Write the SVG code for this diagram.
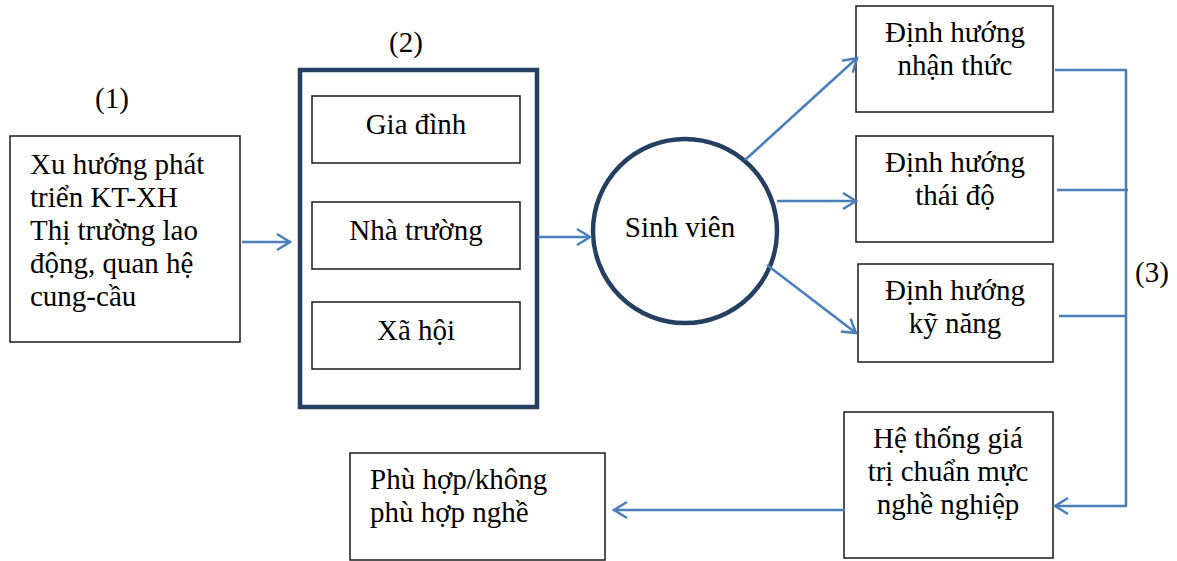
<svg xmlns="http://www.w3.org/2000/svg" width="1177" height="561" viewBox="0 0 1177 561">
<style>
text{font-family:"Liberation Serif","Times New Roman",serif;font-size:29px;fill:#000}
.c{text-anchor:middle}
.box{fill:#fff;stroke:#1a1a1a;stroke-width:1.5}
.thick{fill:#fff;stroke:#243F60;stroke-width:4.5}
.conn{fill:none;stroke:#4A7EBB;stroke-width:2.5}
</style>
<defs>
<marker id="ah" markerUnits="userSpaceOnUse" markerWidth="20" markerHeight="20" viewBox="0 0 20 20" refX="16" refY="10" orient="auto">
<path d="M3,2 L16,10 L3,18" fill="none" stroke="#4A7EBB" stroke-width="2.5"/>
</marker>
</defs>
<rect width="1177" height="561" fill="#fff"/>
<text x="112" y="108" class="c">(1)</text>
<text x="406" y="52" class="c">(2)</text>
<text x="1152" y="282" class="c">(3)</text>
<g id="n1">
<rect class="box" x="10" y="136" width="230" height="206"/>
<text x="30" y="174">Xu hướng phát</text>
<text x="30" y="207">triển KT-XH</text>
<text x="30" y="240">Thị trường lao</text>
<text x="30" y="273">động, quan hệ</text>
<text x="30" y="306">cung-cầu</text>
</g>
<g id="n2">
<rect class="thick" x="300" y="70" width="237" height="337"/>
<rect class="box" x="312" y="96" width="208" height="67"/>
<text x="416" y="134" class="c">Gia đình</text>
<rect class="box" x="312" y="202" width="208" height="67"/>
<text x="416" y="240" class="c">Nhà trường</text>
<rect class="box" x="312" y="302" width="208" height="67"/>
<text x="416" y="340" class="c">Xã hội</text>
</g>
<g id="sv">
<circle class="thick" cx="685" cy="231" r="92"/>
<text x="680" y="237" class="c">Sinh viên</text>
</g>
<g id="nA">
<rect class="box" x="856" y="6" width="197" height="106"/>
<text x="955" y="42" class="c">Định hướng</text>
<text x="955" y="75" class="c">nhận thức</text>
</g>
<g id="nB">
<rect class="box" x="856" y="136" width="197" height="106"/>
<text x="955" y="172" class="c">Định hướng</text>
<text x="955" y="205" class="c">thái độ</text>
</g>
<g id="nC">
<rect class="box" x="858" y="264" width="195" height="98"/>
<text x="955" y="300" class="c">Định hướng</text>
<text x="955" y="333" class="c">kỹ năng</text>
</g>
<g id="nD">
<rect class="box" x="844" y="412" width="209" height="146"/>
<text x="948" y="448" class="c">Hệ thống giá</text>
<text x="948" y="481" class="c">trị chuẩn mực</text>
<text x="948" y="514" class="c">nghề nghiệp</text>
</g>
<g id="nE">
<rect class="box" x="350" y="453" width="255" height="107"/>
<text x="370" y="489">Phù hợp/không</text>
<text x="370" y="522">phù hợp nghề</text>
</g>
<g id="connectors">
<line class="conn" x1="242" y1="242" x2="290" y2="242" marker-end="url(#ah)"/>
<line class="conn" x1="538" y1="237" x2="590" y2="237" marker-end="url(#ah)"/>
<line class="conn" x1="745" y1="160" x2="857" y2="58" marker-end="url(#ah)"/>
<line class="conn" x1="777" y1="201" x2="856" y2="201" marker-end="url(#ah)"/>
<line class="conn" x1="767" y1="265" x2="856" y2="333" marker-end="url(#ah)"/>
<line class="conn" x1="1055" y1="70" x2="1127" y2="70"/>
<line class="conn" x1="1057" y1="190" x2="1128" y2="190"/>
<line class="conn" x1="1059" y1="316" x2="1127" y2="316"/>
<line class="conn" x1="1126" y1="70" x2="1126" y2="506"/>
<line class="conn" x1="1127" y1="506" x2="1055" y2="506" marker-end="url(#ah)"/>
<line class="conn" x1="845" y1="510" x2="614" y2="510" marker-end="url(#ah)"/>
</g>
</svg>
